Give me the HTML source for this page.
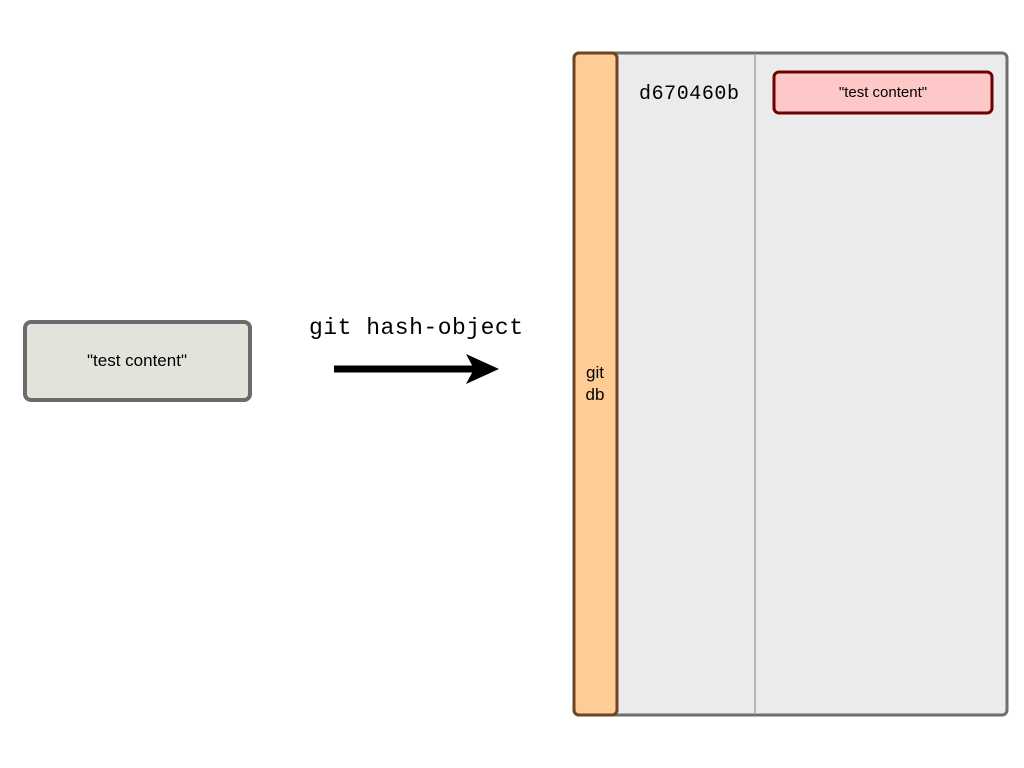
<!DOCTYPE html>
<html><head><meta charset="utf-8"><style>html,body{margin:0;padding:0;background:#fff;width:1024px;height:768px;overflow:hidden}</style></head>
<body>
<svg width="1024" height="768" xmlns="http://www.w3.org/2000/svg">
<rect x="574" y="53" width="433" height="662" rx="5" fill="#ebebeb" stroke="#6e6e6e" stroke-width="3"/>
<line x1="755" y1="54" x2="755" y2="714" stroke="#b5b5b5" stroke-width="2"/>
<rect x="574" y="53" width="43" height="662" rx="5" fill="#fecc94" stroke="#6b4526" stroke-width="3"/>
<text x="595" y="378" font-family="Liberation Sans, sans-serif" font-size="17" text-anchor="middle" fill="#000">git</text>
<text x="595" y="400" font-family="Liberation Sans, sans-serif" font-size="17" text-anchor="middle" fill="#000">db</text>
<text x="689" y="99" font-family="Liberation Mono, monospace" font-size="20" text-anchor="middle" fill="#000" textLength="100">d670460b</text>
<rect x="774" y="72" width="218" height="41" rx="5" fill="#fec8c8" stroke="#6e0000" stroke-width="3"/>
<text x="883" y="97" font-family="Liberation Sans, sans-serif" font-size="15" text-anchor="middle" fill="#000">"test content"</text>
<rect x="25" y="322" width="225" height="78" rx="6" fill="#e2e4dc" stroke="#6b6b6b" stroke-width="4"/>
<text x="137" y="366" font-family="Liberation Sans, sans-serif" font-size="17" text-anchor="middle" fill="#000">"test content"</text>
<text x="416" y="334" font-family="Liberation Mono, monospace" font-size="23" text-anchor="middle" fill="#000" textLength="214">git hash-object</text>
<line x1="334" y1="369" x2="480" y2="369" stroke="#000" stroke-width="7"/>
<polygon points="466,354 499,369 466,384 474,369" fill="#000"/>
</svg>
</body></html>
